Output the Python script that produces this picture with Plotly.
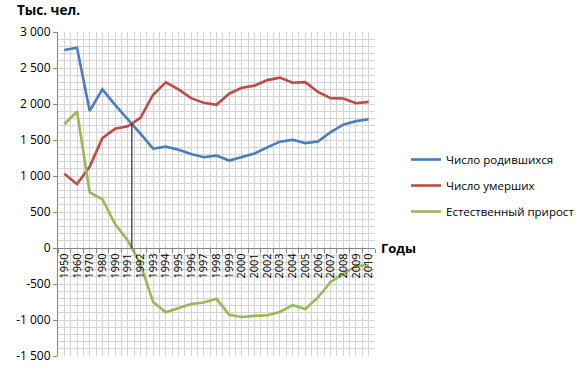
import plotly.graph_objects as go

years = ["1950", "1960", "1970", "1980", "1990", "1991", "1992", "1993", "1994", "1995",
         "1996", "1997", "1998", "1999", "2000", "2001", "2002", "2003", "2004", "2005",
         "2006", "2007", "2008", "2009", "2010"]
births = [2750, 2782, 1904, 2203, 1989, 1795, 1588, 1379, 1408, 1364,
          1305, 1260, 1283, 1215, 1267, 1312, 1397, 1477, 1502, 1457,
          1480, 1610, 1714, 1762, 1789]
deaths = [1031, 886, 1131, 1526, 1656, 1691, 1807, 2129, 2301, 2204,
          2082, 2016, 1989, 2144, 2225, 2255, 2332, 2366, 2296, 2304,
          2167, 2081, 2076, 2011, 2029]
natural = [1719, 1896, 773, 677, 333, 104, -219, -750, -893, -840,
           -777, -756, -706, -929, -958, -943, -935, -889, -794, -847,
           -687, -471, -362, -249, -240]
y_ticks = [-1500, -1000, -500, 0, 500, 1000, 1500, 2000, 2500, 3000]
y_labels = ["-1 500", "-1 000", "-500", "0", "500", "1 000", "1 500", "2 000", "2 500", "3 000"]
series_names = ["Число родившихся", "Число умерших", "Естественный прирост"]
colors = ["#4A7EBB", "#BE4B48", "#98B954"]

FONT = "Open Sans"
idx = list(range(len(years)))

fig = go.Figure()
for i, (name, vals) in enumerate(zip(series_names, [births, deaths, natural])):
    fig.add_trace(go.Scatter(
        x=idx, y=vals, mode="lines", name=name, legendgroup=f"g{i}",
        line=dict(color=colors[i], width=2.6),
    ))

# crossing point of births and deaths (between 1991 and 1992)
k = next(j for j in range(len(idx) - 1) if (births[j] - deaths[j]) * (births[j + 1] - deaths[j + 1]) < 0)
d0 = births[k] - deaths[k]
d1 = births[k + 1] - deaths[k + 1]
t = d0 / (d0 - d1)
xc = idx[k] + t
yc = births[k] + t * (births[k + 1] - births[k])
fig.add_shape(type="line", x0=xc, x1=xc, y0=0, y1=yc, xref="x", yref="y",
              line=dict(color="#2B2350", width=1.2), layer="above")

grid_c = "#D4D4D4"
fig.update_xaxes(
    range=[-0.5, len(years) - 0.5], automargin=False,
    tickmode="array", tickvals=idx, ticktext=years, tickangle=-90,
    ticks="", showgrid=True, gridcolor=grid_c, gridwidth=1,
    minor=dict(tickmode="array", tickvals=[j - 0.5 for j in range(len(years) + 1)],
               ticks="outside", ticklen=4, tickcolor="#868686",
               showgrid=True, gridcolor=grid_c, gridwidth=1),
    showline=True, linecolor="#868686", linewidth=1,
    anchor="free", position=1500 / 4500,
    tickfont=dict(family=FONT, size=11, color="#000000"),
    zeroline=False,
)
fig.update_yaxes(
    range=[-1500, 3000], automargin=False,
    tickmode="array", tickvals=y_ticks, ticktext=y_labels,
    ticks="outside", ticklen=4, tickcolor="#868686",
    showgrid=True, gridcolor=grid_c, gridwidth=1,
    minor=dict(dtick=100, tick0=0, showgrid=True, gridcolor=grid_c, gridwidth=1),
    showline=True, linecolor="#868686", linewidth=1,
    tickfont=dict(family=FONT, size=12, color="#000000"),
    zeroline=False,
)

fig.add_annotation(text="<b>Тыс. чел.</b>", xref="paper", yref="paper",
                   x=-43 / 317, y=1, xanchor="left", yanchor="bottom", yshift=11,
                   showarrow=False, font=dict(family=FONT, size=13.5, color="#000000"))
fig.add_annotation(text="<b>Годы</b>", xref="paper", yref="y",
                   x=1, y=0, xanchor="left", yanchor="middle", xshift=4,
                   showarrow=False, font=dict(family=FONT, size=13, color="#000000"))

fig.update_layout(
    width=586, height=371,
    margin=dict(l=58, r=211, t=32, b=15, autoexpand=False),
    paper_bgcolor="white", plot_bgcolor="white",
    showlegend=True,
    legend=dict(x=(406 - 58) / 317, y=(356 - 145) / 324, xanchor="left", yanchor="top",
                font=dict(family=FONT, size=11.5, color="#000000"),
                tracegroupgap=7, bgcolor="rgba(0,0,0,0)"),
    font=dict(family=FONT),
)

fig.write_html("out.html", config={"displayModeBar": False},
               post_script="document.body.style.margin='0px';document.body.style.overflow='hidden';")
